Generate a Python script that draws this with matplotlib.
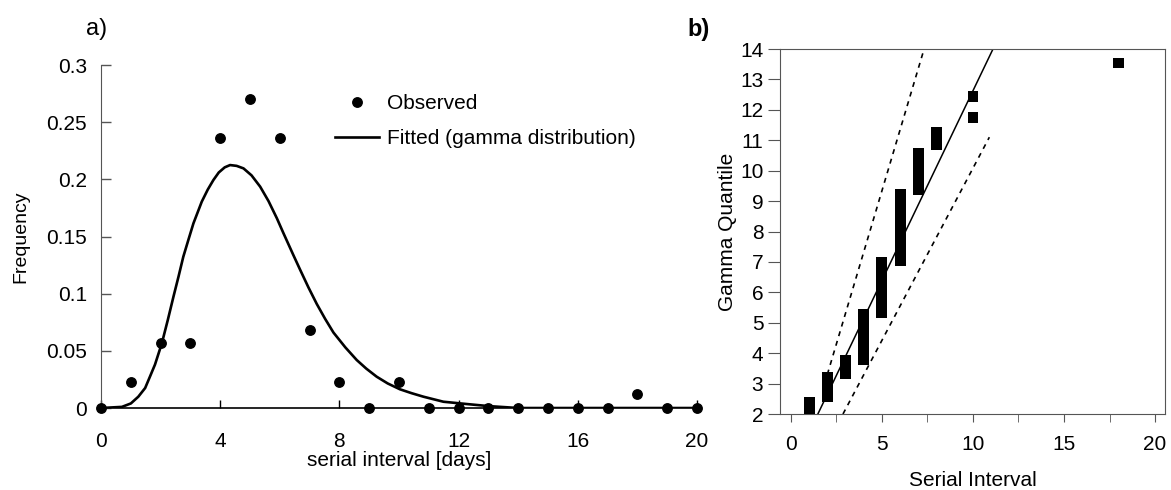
import numpy as np
import matplotlib
matplotlib.use('Agg')
from matplotlib import pyplot as plt

plt.rcParams['font.family'] = ['Liberation Sans', 'DejaVu Sans']

# panel a: observed frequencies of serial interval (days)
obs_days = [0, 1, 2, 3, 4, 5, 6, 7, 8, 9, 10, 11, 12, 13, 14, 15, 16, 17, 18, 19, 20]
obs_freq = [0, 0.023, 0.057, 0.057, 0.236, 0.270, 0.236, 0.068, 0.023, 0, 0.023,
            0, 0, 0, 0, 0, 0, 0, 0.012, 0, 0]

# fitted gamma curve
fit_days = [0, 0.7, 1.0, 1.25, 1.48, 1.64, 1.81, 2.04, 2.24, 2.43, 2.6, 2.76, 2.93,
            3.10, 3.38, 3.58, 3.77, 3.95, 4.15, 4.33, 4.55, 4.78, 5.05, 5.34, 5.62,
            5.90, 6.12, 6.45, 6.68, 6.96, 7.24, 7.52, 7.80, 8.2, 8.58, 8.9, 9.25,
            9.62, 10.03, 10.42, 10.82, 11.49, 12.27, 13.0, 14.0, 20.0]
fit_freq = [0, 0.001, 0.004, 0.0099, 0.0175, 0.0274, 0.038, 0.0566, 0.077, 0.0974,
            0.115, 0.1323, 0.147, 0.1615, 0.1805, 0.191, 0.1994, 0.206, 0.2105,
            0.2125, 0.2118, 0.2096, 0.2035, 0.1936, 0.181, 0.166, 0.153, 0.134,
            0.121, 0.1055, 0.091, 0.078, 0.066, 0.053, 0.042, 0.0345, 0.0274,
            0.0215, 0.0164, 0.013, 0.0099, 0.0055, 0.0035, 0.0017, 0.0, 0.0]

# panel b: gamma quantile plot, stacks of squares per serial interval
qq_x = [1, 2, 3, 4, 5, 6, 7, 8, 10, 10, 18]
qq_lo = [1.9, 2.40, 3.15, 3.61, 5.17, 6.85, 9.2, 10.68, 12.26, 11.57, 13.37]
qq_hi = [2.57, 3.37, 3.94, 5.44, 7.17, 9.40, 10.75, 11.44, 12.63, 11.93, 13.70]

fit_line_x = [1.48, 11.1]
fit_line_y = [2.0, 14.0]
upper_x = [2.0, 7.25]
upper_y = [3.3, 13.87]
lower_x = [2.86, 10.9]
lower_y = [2.0, 11.1]

fig = plt.figure(figsize=(11.71, 4.9), dpi=100)

# ---- a) ----
ax = fig.add_axes([0.0863, 0.1673, 0.5089, 0.70])
ax.plot(fit_days, fit_freq, '-', color='black', lw=1.9, zorder=3,
        label='Fitted (gamma distribution)')
ax.plot(obs_days, obs_freq, 'o', color='black', ms=6.8, zorder=4,
        clip_on=False, label='Observed')
ax.set_xlim(0, 20)
ax.set_ylim(0, 0.3)
ax.spines['top'].set_visible(False)
ax.spines['right'].set_visible(False)
ax.spines['left'].set_color('#555555')
ax.spines['bottom'].set_color('black')
ax.spines['bottom'].set_linewidth(1.2)
ax.set_xticks([0, 4, 8, 12, 16, 20])
ax.set_yticks([0, 0.05, 0.1, 0.15, 0.2, 0.25, 0.3])
ax.set_yticklabels(['0', '0.05', '0.1', '0.15', '0.2', '0.25', '0.3'])
ax.tick_params(axis='x', direction='in', length=6, pad=17, labelsize=15, width=1)
ax.tick_params(axis='y', direction='in', length=7, pad=10, labelsize=15,
               color='#555555', width=1)
ax.set_xlabel('serial interval [days]', fontsize=15, labelpad=0)
ax.set_ylabel('Frequency', fontsize=14, labelpad=12)
handles, labels = ax.get_legend_handles_labels()
ax.legend(handles[::-1], labels[::-1], loc='upper left',
          bbox_to_anchor=(0.393, 0.915), frameon=False, fontsize=15,
          handlelength=2.1, handletextpad=0.4, labelspacing=0.75,
          borderpad=0, borderaxespad=0)
fig.text(0.0735, 0.94, 'a)', fontsize=17,
         family=['Liberation Sans Narrow', 'Liberation Sans'], va='center')

# ---- b) ----
bx = fig.add_axes([0.6661, 0.1551, 0.3288, 0.7449])
bx.bar(qq_x, np.array(qq_hi) - np.array(qq_lo), bottom=qq_lo, width=0.6,
       color='black', zorder=3)
bx.plot(fit_line_x, fit_line_y, '-', color='black', lw=1.1, zorder=2)
bx.plot(upper_x, upper_y, color='black', lw=1.2, ls=(0, (3, 3)), zorder=2)
bx.plot(lower_x, lower_y, color='black', lw=1.2, ls=(0, (3, 3)), zorder=2)
bx.set_xlim(-0.6, 20.55)
bx.set_ylim(2, 14)
bx.set_xticks([0, 5, 10, 15, 20])
bx.set_xticks([2.5, 7.5, 12.5, 17.5], minor=True)
bx.set_yticks(range(2, 15))
for s in bx.spines.values():
    s.set_color('#555555')
bx.tick_params(axis='x', which='both', direction='out', length=6, pad=9,
               labelsize=15, color='#555555')
bx.tick_params(axis='y', direction='out', length=9, pad=3, labelsize=15,
               color='#555555')
bx.set_xlabel('Serial Interval', fontsize=15, labelpad=12)
bx.set_ylabel('Gamma Quantile', fontsize=15, labelpad=2)
fig.text(0.587, 0.94, 'b)', fontsize=17, fontweight='bold',
         family=['Liberation Sans Narrow', 'Liberation Sans'], va='center')

fig.savefig('out.png', dpi=100)
